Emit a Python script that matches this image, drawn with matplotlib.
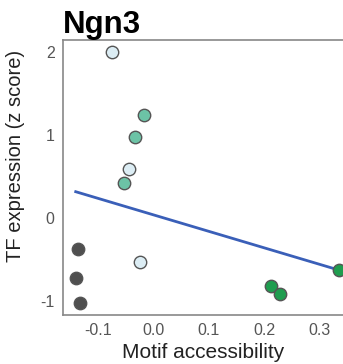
import numpy as np
import matplotlib
matplotlib.use("Agg")
import matplotlib.pyplot as plt

plt.rcParams['font.family'] = ['Liberation Sans', 'DejaVu Sans']

title = "Ngn3"
xlabel = "Motif accessibility"
ylabel = "TF expression (z score)"

groups = ["dark", "light", "teal", "green"]
group_colors = {"dark": "#4f4f4f", "light": "#dcedf4", "teal": "#6cc3a6", "green": "#1f9d4f"}

dark_x = [-0.137, -0.141, -0.134]
dark_y = [-0.37, -0.72, -1.02]
light_x = [-0.076, -0.045, -0.024]
light_y = [2.00, 0.59, -0.53]
teal_x = [-0.018, -0.033, -0.054]
teal_y = [1.24, 0.97, 0.42]
green_x = [0.213, 0.228, 0.335]
green_y = [-0.82, -0.92, -0.63]

xticks = [-0.1, 0.0, 0.1, 0.2, 0.3]
xticklabels = ["-0.1", "0.0", "0.1", "0.2", "0.3"]
yticks = [-1, 0, 1, 2]
yticklabels = ["-1", "0", "1", "2"]

fig = plt.figure(figsize=(3.43, 3.64), dpi=100)
# axes: left 63px, top 40px, bottom 315px, right at image edge
ax = fig.add_axes([63/343, (364-315)/364, 280/343, (315-40)/364])

xs = {"dark": dark_x, "light": light_x, "teal": teal_x, "green": green_x}
ys = {"dark": dark_y, "light": light_y, "teal": teal_y, "green": green_y}

all_x = np.array(dark_x + light_x + teal_x + green_x)
all_y = np.array(dark_y + light_y + teal_y + green_y)
slope, intercept = np.polyfit(all_x, all_y, 1)
lx = np.array([all_x.min(), all_x.max()])
ax.plot(lx, slope*lx + intercept, color="#3a5fb8", lw=2, zorder=2)

for g in groups:
    ax.scatter(xs[g], ys[g], s=80, c=group_colors[g], edgecolors="#555555",
               linewidths=1.0, zorder=3, clip_on=False)

ax.set_xlim(-0.164, -0.164 + 280/553.0)
ax.set_ylim(-1.17, 2.145)

ax.set_xticks(xticks)
ax.set_xticklabels(xticklabels)
ax.set_yticks(yticks)
ax.set_yticklabels(yticklabels)
ax.tick_params(length=0, labelsize=11.5, colors="#555555", pad=6)

for s in ["left", "top", "bottom"]:
    ax.spines[s].set_color("#888888")
    ax.spines[s].set_linewidth(1.2)
ax.spines["right"].set_visible(False)

ax.set_xlabel(xlabel, fontsize=15, color="#222222", labelpad=3)
ax.set_ylabel(ylabel, fontsize=14.5, color="#222222")
ax.yaxis.set_label_coords(-0.135, (315-156)/275)
ax.set_title(title, fontsize=22.5, fontweight="bold", loc="left", pad=3, x=0.0)

fig.savefig("out.png", dpi=100)
